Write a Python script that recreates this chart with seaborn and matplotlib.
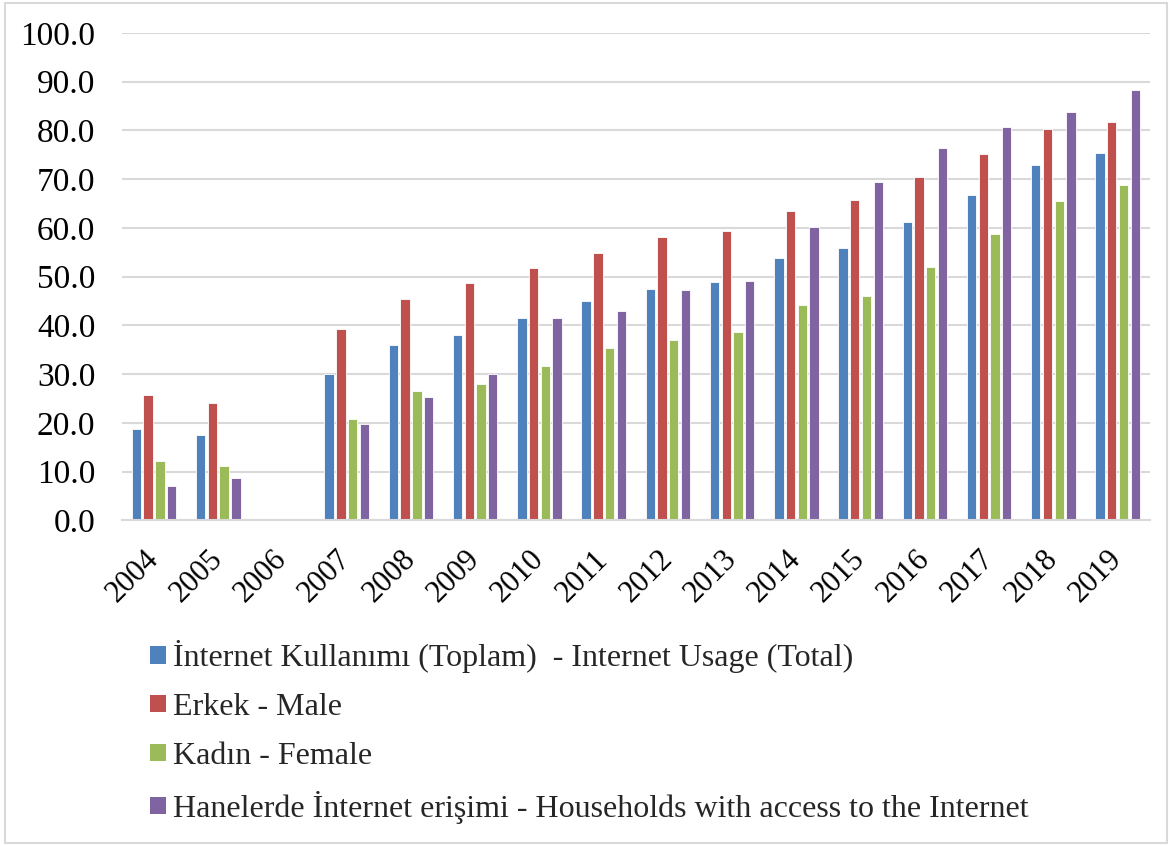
import matplotlib
matplotlib.use("Agg")
import matplotlib.pyplot as plt
from matplotlib.patches import Patch, Rectangle
import numpy as np
import pandas as pd
import seaborn as sns

years = ["2004", "2005", "2006", "2007", "2008", "2009", "2010", "2011",
         "2012", "2013", "2014", "2015", "2016", "2017", "2018", "2019"]

usage_total = [18.8, 17.6, np.nan, 30.1, 35.9, 38.1, 41.6, 45.0,
               47.4, 48.9, 53.8, 55.9, 61.2, 66.8, 72.9, 75.3]
male = [25.7, 24.0, np.nan, 39.2, 45.4, 48.6, 51.8, 54.9,
        58.1, 59.3, 63.5, 65.8, 70.5, 75.1, 80.4, 81.8]
female = [12.1, 11.1, np.nan, 20.7, 26.6, 27.9, 31.6, 35.3,
          37.0, 38.7, 44.1, 46.1, 51.9, 58.7, 65.5, 68.9]
households = [7.0, 8.7, np.nan, 19.7, 25.4, 30.0, 41.6, 42.9,
              47.2, 49.1, 60.2, 69.5, 76.3, 80.7, 83.8, 88.3]

series_names = [
    "İnternet Kullanımı (Toplam)  - Internet Usage (Total)",
    "Erkek - Male",
    "Kadın - Female",
    "Hanelerde İnternet erişimi - Households with access to the Internet",
]
colors = ["#4F81BD", "#C0504D", "#9BBB59", "#8064A2"]

frames = []
for name, vals in zip(series_names, [usage_total, male, female, households]):
    frames.append(pd.DataFrame({"year": years, "value": vals, "series": name}))
df = pd.concat(frames, ignore_index=True)

sns.set_theme(style="white")
plt.rcParams["font.family"] = ["Liberation Serif", "DejaVu Serif"]

fig = plt.figure(figsize=(11.72, 8.46), dpi=100)
ax = fig.add_axes([0.104, 0.385, 0.877, 0.576])

sns.barplot(data=df, x="year", y="value", hue="series", order=years,
            hue_order=series_names, palette=colors, width=0.73, gap=0.2,
            edgecolor="white", linewidth=0.6, saturation=1, ax=ax,
            legend=False)

ax.set_ylim(0, 100)
ax.set_xlim(-0.5, len(years) - 0.5)
ax.set_yticks(np.arange(0, 101, 10))
ax.set_yticklabels([f"{v:.1f}" for v in np.arange(0, 101, 10)], fontsize=24)
ax.yaxis.grid(True, color="#d9d9d9", linewidth=1.5)
ax.set_axisbelow(True)
for s in ["top", "right", "left"]:
    ax.spines[s].set_visible(False)
ax.spines["bottom"].set_color("#d9d9d9")
ax.spines["bottom"].set_linewidth(1.5)
ax.tick_params(axis="y", length=0, pad=19, labelcolor="black")
ax.tick_params(axis="x", length=0, pad=25, labelcolor="black")
ax.set_xticks(range(len(years)))
ax.set_xticklabels(years, fontsize=22, rotation=45, ha="right", va="center",
                   rotation_mode="anchor")
ax.set_xlabel("")
ax.set_ylabel("")

handles = [Patch(facecolor=c, edgecolor="none") for c in colors]
fig.legend(handles, series_names, loc="upper left",
           bbox_to_anchor=(0.128, 0.243), frameon=False, fontsize=23,
           handlelength=0.5, handleheight=0.45, handletextpad=0.22,
           labelspacing=0.62, borderpad=0, borderaxespad=0)

fig.patches.append(Rectangle((0.004, 0.004), 0.992, 0.992,
                             transform=fig.transFigure, fill=False,
                             edgecolor="#d9d9d9", linewidth=1.5))

fig.savefig("out.png", dpi=100)
